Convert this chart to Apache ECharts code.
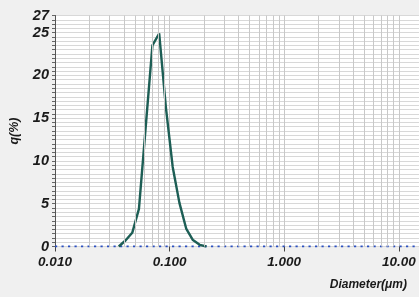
<!DOCTYPE html>
<html>
<head>
<meta charset="utf-8">
<script src="https://cdn.jsdelivr.net/npm/echarts@6/dist/echarts.min.js"></script>
<style>
html,body{margin:0;padding:0;background:#f0f0f0;}
#c{width:419px;height:297px;}
</style>
</head>
<body>
<div id="c"></div>
<script>
// Particle size distribution (diameter in µm, q in %)
const diameters = [0.0360, 0.0412, 0.0472, 0.0540, 0.0618, 0.0708, 0.0811, 0.0929, 0.1064, 0.1218, 0.1395, 0.1598, 0.1830, 0.2096];
const qValues    = [0,      0.7,    1.6,    4.4,    13.9,   23.5,   24.9,   16.2,   9.3,    5.1,    2.1,    0.75,   0.2,    0];
// zero baseline (dotted) across the full range
const baselineX = [0.01, 15];
const baselineY = [0, 0];
// y tick labels shown
const yLabelValues = [0, 5, 10, 15, 20, 25, 27];
// minor vertical grid positions (2..9 per decade)
const mantissas = [2, 3, 4, 5, 6, 7, 8, 9];
const decades = [0.01, 0.1, 1];

const minorGrid = [];
decades.forEach(d => mantissas.forEach(m => minorGrid.push(+(m * d).toPrecision(3))));

const chart = echarts.init(document.getElementById('c'), null, {renderer: 'canvas'});
const labelFont = {fontFamily: 'Liberation Sans', fontWeight: 'bold', fontStyle: 'italic', color: '#1a1a1a', fontSize: 13.5};

chart.setOption({
  backgroundColor: '#f0f0f0',
  animation: false,
  grid: {left: 51, right: 0, top: 15.5, bottom: 50.5, show: true, backgroundColor: '#ffffff', borderWidth: 0},
  xAxis: {
    type: 'log', logBase: 10, min: 0.01, max: 15,
    axisLine: {show: false},
    axisTick: {show: true, length: 5, lineStyle: {color: '#444'}},
    splitLine: {show: true, lineStyle: {color: '#c8c8c8', width: 1}},
    axisLabel: Object.assign({}, labelFont, {
      margin: 9, showMaxLabel: false, showMinLabel: true,
      formatter: v => (v >= 10 ? v.toFixed(2) : v.toFixed(3))
    }),
    name: 'Diameter(μm)', nameLocation: 'end', nameGap: -12,
    nameTextStyle: Object.assign({}, labelFont, {fontSize: 12, align: 'right', verticalAlign: 'top', padding: [32, 0, 0, 0]})
  },
  yAxis: {
    type: 'value', min: 0, max: 27, interval: 0.5,
    axisLine: {show: true, lineStyle: {color: '#555', width: 1}},
    axisTick: {show: true, length: 3, lineStyle: {color: '#666'}},
    splitLine: {show: true, lineStyle: {color: '#d8d8d8', width: 1}},
    axisLabel: Object.assign({}, labelFont, {
      fontSize: 14.5, margin: 6, showMaxLabel: true,
      formatter: v => (yLabelValues.indexOf(v) >= 0 ? String(v) : '')
    }),
    name: 'q(%)', nameLocation: 'middle', nameGap: 34,
    nameTextStyle: Object.assign({}, labelFont, {fontSize: 12.5})
  },
  series: [
    {
      type: 'line', silent: true, symbol: 'none',
      data: baselineX.map((x, i) => [x, baselineY[i]]),
      lineStyle: {color: '#2a4fc0', width: 2.2, type: [2.2, 4.3]},
      markLine: {
        silent: true, symbol: 'none', label: {show: false},
        lineStyle: {color: '#c8c8c8', width: 1, type: 'solid'},
        data: minorGrid.map(v => ({xAxis: v}))
      },
      z: 2
    },
    {
      type: 'line', silent: true, symbol: 'none',
      data: diameters.map((x, i) => [x, qValues[i]]),
      lineStyle: {color: '#1d5e55', width: 2.4},
      z: 3
    }
  ]
});
</script>
</body>
</html>
